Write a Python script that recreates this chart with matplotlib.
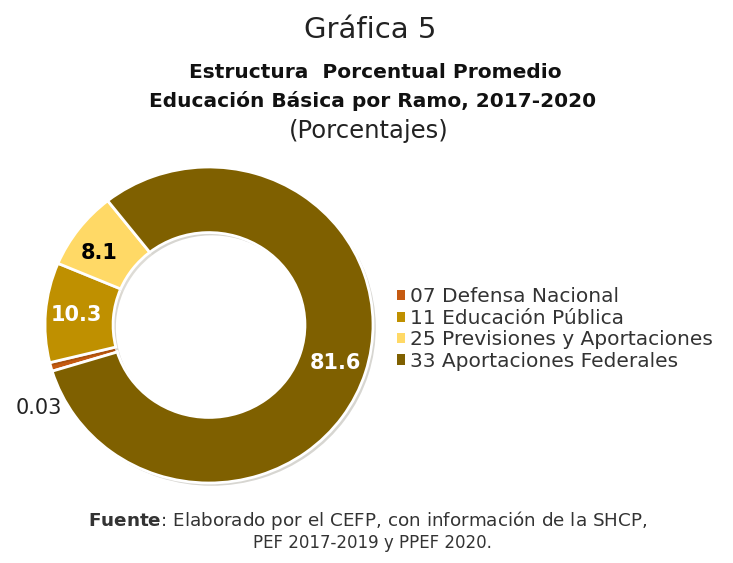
"""Donut chart: estructura porcentual promedio de Educación Básica por ramo, 2017-2020."""
import matplotlib
matplotlib.use("Agg")
import matplotlib.pyplot as plt
import matplotlib.patheffects as pe
import numpy as np
from matplotlib.patches import Patch

# data (legend order)
ramos = ["07 Defensa Nacional", "11 Educación Pública",
         "25 Previsiones y Aportaciones", "33 Aportaciones Federales"]
valores = [0.03, 10.3, 8.1, 81.6]
etiquetas = ["0.03", "10.3", "8.1", "81.6"]
colores = ["#C55A11", "#BF9000", "#FFD966", "#7F6000"]
color_texto = ["#222222", "white", "black", "white"]

# the 0.03 slice is drawn as a thin sliver in the original, give it a minimum share
MIN_SHARE = 0.9
tamanos = [max(v, MIN_SHARE) for v in valores]

plt.rcParams["font.family"] = ["DejaVu Sans"]

W, H = 733, 563
fig = plt.figure(figsize=(W / 100, H / 100), dpi=100)
fig.patch.set_facecolor("white")

# donut axes: centre ~ (209, 325) px, slightly wider than tall in the source
cx, cy, rx, ry = 209, 325, 164, 158
ax = fig.add_axes([(cx - rx) / W, (H - cy - ry) / H, 2 * rx / W, 2 * ry / H])

wedges, _ = ax.pie(
    tamanos, colors=colores, startangle=197, counterclock=False,
    radius=1.0,
    wedgeprops=dict(width=0.415, edgecolor="white", linewidth=2,
                    path_effects=[pe.SimplePatchShadow(offset=(2, -2),
                                                      alpha=0.18),
                                  pe.Normal()]))
# pie resets the limits, so set them afterwards
ax.set_xlim(-1, 1)
ax.set_ylim(-1, 1)
ax.set_aspect("auto")
ax.axis("off")

for w, lab, col, v in zip(wedges, etiquetas, color_texto, valores):
    mid = np.deg2rad((w.theta1 + w.theta2) / 2)
    if v < 1:
        # outside label for the tiny slice
        ang = mid + np.deg2rad(15)
        ax.text(1.04 * np.cos(ang), 1.04 * np.sin(ang), lab,
                ha="right", va="center", fontsize=15, color=col,
                clip_on=False)
    else:
        if v < 9:
            mid += np.deg2rad(3)
        rr = 0.81
        ax.text(rr * np.cos(mid), rr * np.sin(mid), lab,
                ha="center", va="center", fontsize=15, color=col,
                fontweight="bold")

handles = [Patch(facecolor=c, edgecolor="none") for c in colores]
fig.legend(handles, ramos, loc="center left",
           bbox_to_anchor=(379 / W, 1 - 329 / H), frameon=False,
           fontsize=14.5, labelcolor="#333333",
           handlelength=0.4, handleheight=0.4, handletextpad=0.25,
           labelspacing=0.12)

# titles
fig.text(370 / W, 1 - 30 / H, "Gráfica 5", ha="center", va="center",
         fontsize=21, color="#222222")
fig.text(375 / W, 1 - 73 / H, "Estructura  Porcentual Promedio",
         ha="center", va="center", fontsize=14.5, fontweight="bold",
         color="#111111")
fig.text(373 / W, 1 - 101 / H, "Educación Básica por Ramo, 2017-2020",
         ha="center", va="center", fontsize=14.5, fontweight="bold",
         color="#111111")
fig.text(369 / W, 1 - 131 / H, "(Porcentajes)", ha="center", va="center",
         fontsize=17.5, color="#222222")

# source note
fig.text(368 / W, 1 - 521 / H,
         r"$\bf{Fuente}$: Elaborado por el CEFP, con información de la SHCP,",
         ha="center", va="center", fontsize=13.2, color="#333333")
fig.text(372 / W, 1 - 543 / H, "PEF 2017-2019 y PPEF 2020.",
         ha="center", va="center", fontsize=12, color="#333333")

fig.savefig("out.png", dpi=100)
